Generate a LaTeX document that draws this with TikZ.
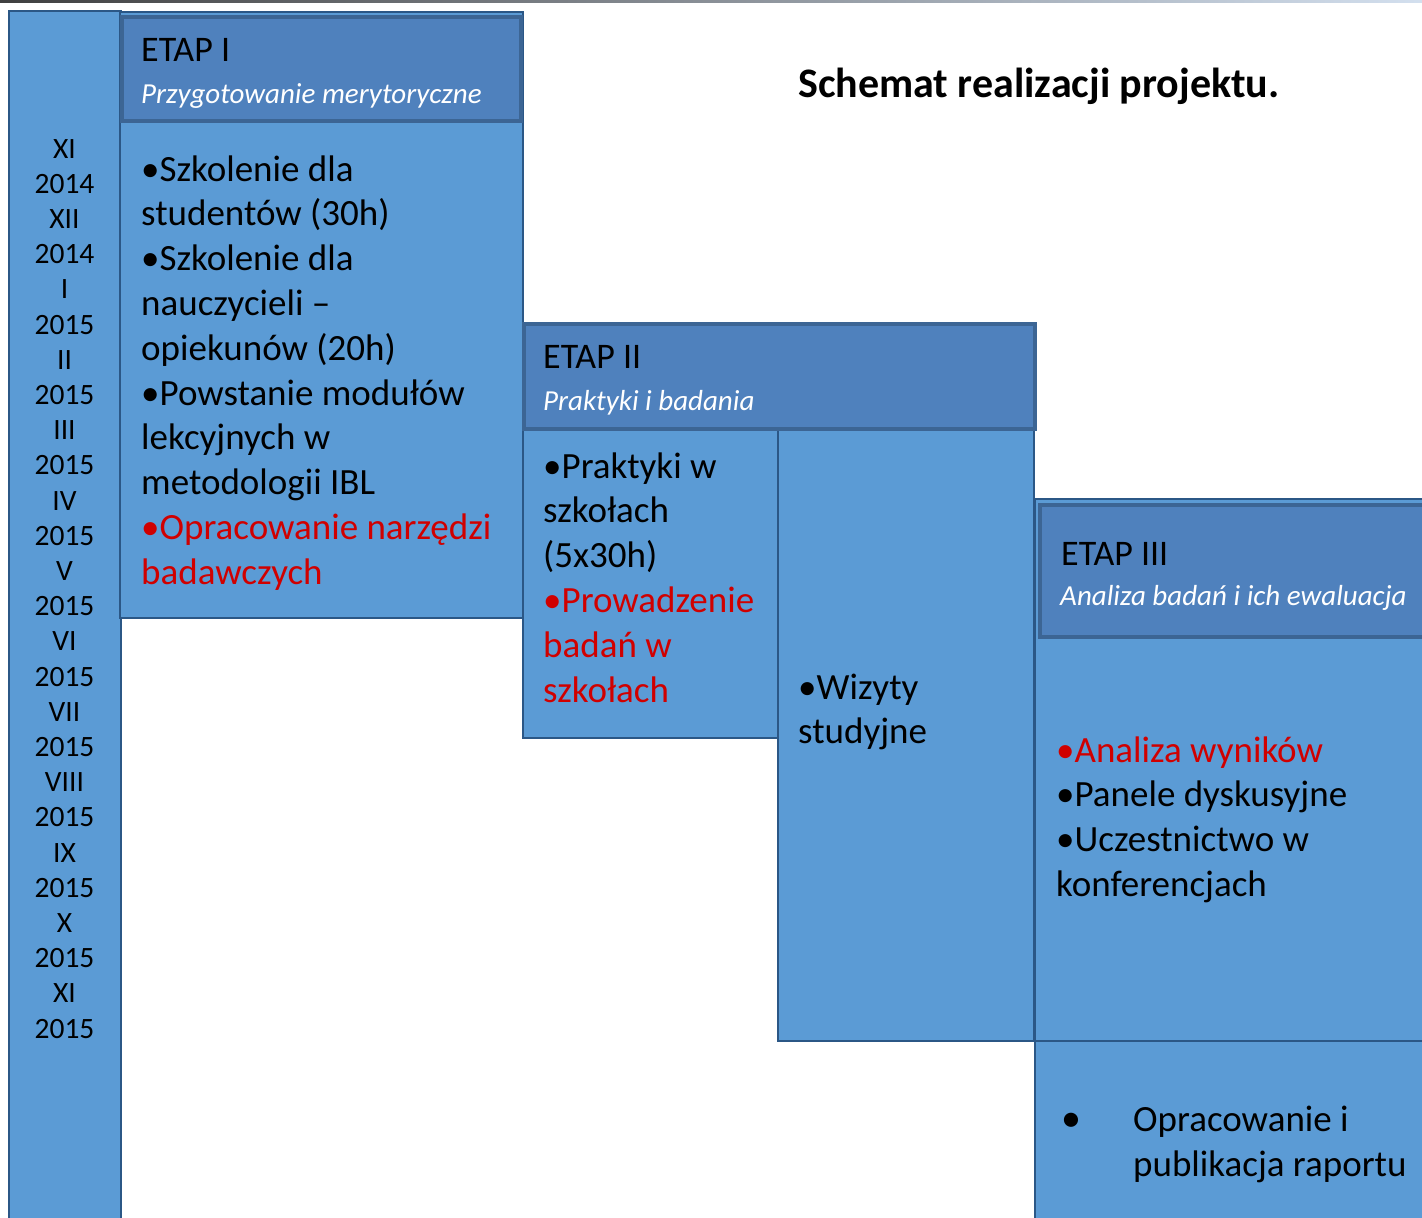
\documentclass[tikz,border=0pt]{standalone}
\usepackage{fontspec}
\setmainfont{Carlito}
\definecolor{fillblue}{HTML}{5B9BD5}
\definecolor{headblue}{HTML}{4F81BD}
\definecolor{headline}{HTML}{3C6594}
\definecolor{boxline}{HTML}{2B5786}
\definecolor{redtxt}{HTML}{D00000}
\tikzset{
  box/.style={fill=fillblue, draw=boxline, line width=2pt},
  head/.style={fill=headblue, draw=headline, line width=4pt},
  body/.style={anchor=base west, inner sep=0pt, align=left, font=\fontsize{37}{44.8}\selectfont},
  htitle/.style={anchor=base west, inner sep=0pt, font=\fontsize{36}{40}\selectfont},
  hsub/.style={anchor=base west, inner sep=0pt, text=white, font=\fontsize{29}{32}\itshape},
}
\begin{document}
\begin{tikzpicture}[x=1pt,y=-1pt]
\useasboundingbox (0,0) rectangle (1422,1218);
\clip (0,0) rectangle (1422,1218);
\fill[white] (0,0) rectangle (1422,1218);
\shade[left color=black!75, right color=headblue!25] (0,0) rectangle (1422,2.5);
% timeline
\draw[box] (9,11) rectangle (121,1240);
\node[anchor=base, inner sep=0pt, align=center, text width=100pt, font=\fontsize{29.5}{35.2}\selectfont] (tl) at (64.5,158)
 {XI\\2014\\XII\\2014\\I\\2015\\II\\2015\\III\\2015\\IV\\2015\\V\\2015\\VI\\2015\\VII\\2015\\VIII\\2015\\IX\\2015\\X\\2015\\XI\\2015};
% ETAP I
\draw[box] (120,12) rectangle (523,618);
\draw[head] (122,17) rectangle (521,121);
\node[htitle] (e1) at (141,61) {ETAP I};
\node[hsub] (e1s) at (141,103) {Przygotowanie merytoryczne};
% anchored at the baseline of the last line
\node[body] (b1) at (141,584.2) {•Szkolenie dla\\studentów (30h)\\•Szkolenie dla\\nauczycieli --\\opiekunów (20h)\\•Powstanie modułów\\lekcyjnych w\\metodologii IBL\\\textcolor{redtxt}{•Opracowanie narzędzi}\\\textcolor{redtxt}{badawczych}};
% ETAP II
\draw[box] (523,430) rectangle (778,738);
\draw[box] (778,430) rectangle (1034,1041);
\draw[head] (524,324) rectangle (1035,429);
\node[htitle] (e2) at (543,368) {ETAP II};
\node[hsub] (e2s) at (543,410) {Praktyki i badania};
\node[body] (b2) at (543,702) {•Praktyki w\\szkołach\\(5x30h)\\\textcolor{redtxt}{•Prowadzenie}\\\textcolor{redtxt}{badań w}\\\textcolor{redtxt}{szkołach}};
\node[body] (b2w) at (798,743.8) {•Wizyty\\studyjne};
% ETAP III
\draw[box] (1035,499) rectangle (1440,1041);
\draw[head] (1040,505) rectangle (1440,637);
\node[htitle] (e3) at (1061,565) {ETAP III};
\node[hsub] (e3s) at (1060,605) {Analiza badań i ich ewaluacja};
\node[body] (b3) at (1056,896.4) {\textcolor{redtxt}{•Analiza wyników}\\•Panele dyskusyjne\\•Uczestnictwo w\\konferencjach};
\draw[box] (1035,1041) rectangle (1440,1240);
\node[body] (b4) at (1133,1176) {\llap{\makebox[72pt][l]{\fontsize{40}{40}\selectfont•}}Opracowanie i\\publikacja raportu};
% title
\node[anchor=base west, inner sep=0pt, font=\fontsize{42}{46}\bfseries] (title) at (798,97) {Schemat realizacji projektu.};
\end{tikzpicture}
\end{document}
